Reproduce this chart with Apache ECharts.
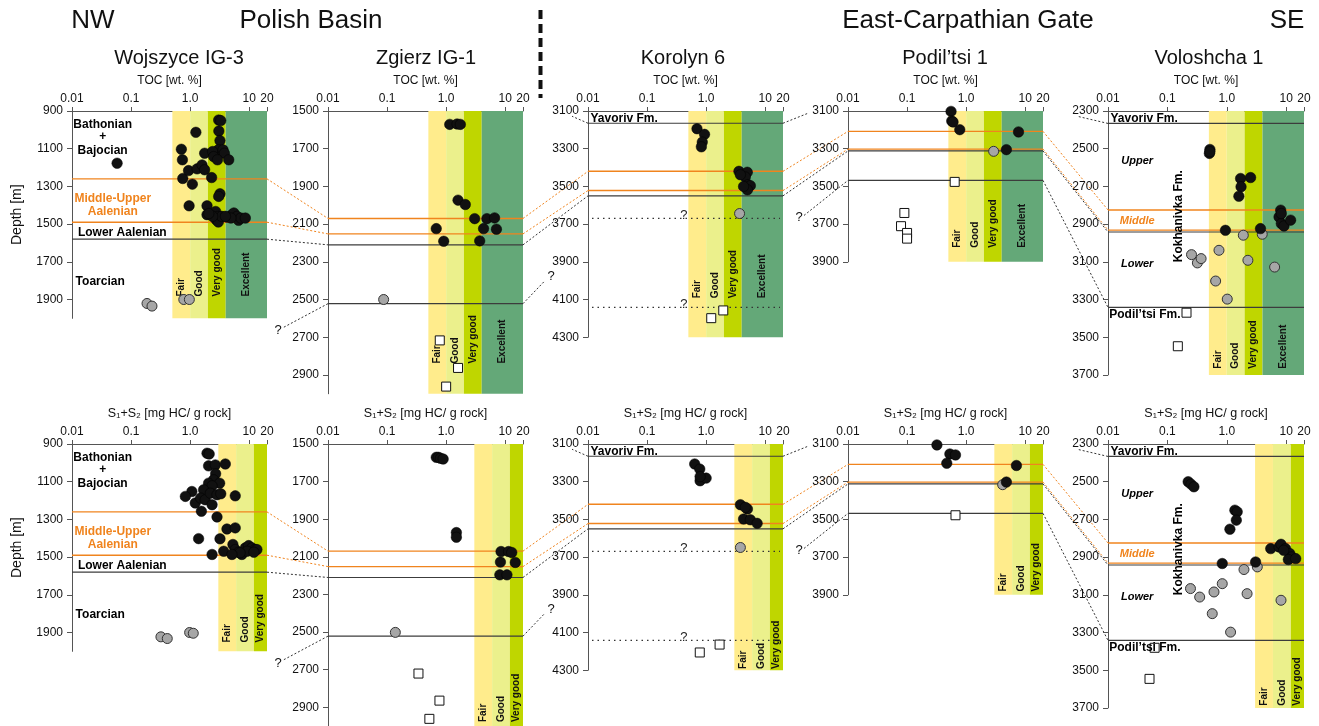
<!DOCTYPE html>
<html>
<head>
<meta charset="utf-8">
<script src="https://cdn.jsdelivr.net/npm/echarts@6/dist/echarts.min.js"></script>
<style>
  html, body { margin: 0; padding: 0; background: #ffffff; }
  #chart { width: 1319px; height: 726px; }
</style>
</head>
<body>
<div id="chart"></div>
<script>
// ---------- wells, axes ----------
const wellNames = ['Wojszyce IG-3', 'Zgierz IG-1', 'Korolyn 6', 'Podil’tsi 1', 'Voloshcha 1'];
const depthExtents = [[900, 2000], [1500, 3000], [3100, 4300], [3100, 3900], [2300, 3700]];
const wojDepthTicks = [900, 1100, 1300, 1500, 1700, 1900];
const zgiDepthTicks = [1500, 1700, 1900, 2100, 2300, 2500, 2700, 2900];
const korDepthTicks = [3100, 3300, 3500, 3700, 3900, 4100, 4300];
const podDepthTicks = [3100, 3300, 3500, 3700, 3900];
const volDepthTicks = [2300, 2500, 2700, 2900, 3100, 3300, 3500, 3700];
const logTicks = [0.01, 0.1, 1, 10, 20];
const logTickLabels = ['0.01', '0.1', '1.0', '10', '20'];

// Source-rock quality classes [from, to, name]
const tocClasses = [[0.5, 1, 'Fair'], [1, 2, 'Good'], [2, 4, 'Very good'], [4, 20, 'Excellent']];
const s12Classes = [[3, 6, 'Fair'], [6, 12, 'Good'], [12, 20, 'Very good']];

// ---------- TOC [wt. %] vs depth [m] ----------
const wojTocBlack = [[0.058,1177],[1.25,1013],[0.71,1103],[0.74,1159],[0.75,1258],[0.94,1216],[1.09,1288],[0.96,1403],[1.31,1207],[1.59,1186],[1.76,1212],[1.93,1403],[1.76,1124],[2.31,1253],[1.93,1450],[3.04,948],[3.3,951],[3.06,1006],[3.2,1057],[3.0,1106],[2.4,1115],[2.5,1142],[3.6,1106],[3.8,1124],[4.5,1159],[2.9,1159],[3.2,1339],[3.04,1353],[2.7,1433],[3.0,1459],[2.76,1477],[3.0,1489],[3.4,1459],[4.2,1463],[5.1,1450],[5.5,1441],[6.2,1459],[6.6,1480],[7.2,1468],[8.6,1468],[4.9,1468],[3.95,1459],[2.4,1459],[2.07,1444]];
const wojTocGrey = [[0.186,1921],[0.226,1935],[0.78,1900],[0.97,1900]];
const wojTocWhite = [];
const zgiTocBlack = [[1.15,1571],[1.53,1569],[1.74,1571],[1.59,1973],[2.11,1996],[0.68,2124],[0.91,2191],[3.04,2071],[4.3,2124],[4.9,2071],[6.6,2067],[7.1,2127],[3.7,2189]];
const zgiTocGrey = [[0.0875,2500]];
const zgiTocWhite = [[0.78,2717],[1.59,2863],[1.0,2962]];
const korTocBlack = [[0.70,3194],[0.94,3224],[0.86,3265],[0.83,3290],[3.59,3420],[4.97,3425],[4.6,3450],[3.8,3438],[5.1,3491],[5.6,3496],[5.0,3518],[4.3,3500]];
const korTocGrey = [[3.68,3644]];
const korTocWhite = [[1.95,4158],[1.22,4199]];
const podTocBlack = [[0.555,3102],[0.57,3153],[0.6,3158],[0.78,3199],[7.7,3211],[4.8,3305]];
const podTocGrey = [[2.92,3314]];
const podTocWhite = [[0.64,3476],[0.09,3641],[0.079,3711],[0.1,3747],[0.1,3777]];
const volTocBlack = [[0.52,2504],[0.51,2525],[0.52,2516],[1.71,2658],[1.74,2702],[1.6,2752],[2.52,2653],[0.95,2933],[3.7,2924],[8.1,2826],[7.6,2862],[8.3,2897],[9.2,2910],[11.9,2879],[8.3,2844]];
const volTocGrey = [[0.255,3062],[0.32,3106],[0.37,3083],[0.74,3039],[0.65,3202],[1.02,3298],[1.9,2959],[2.27,3092],[3.96,2954],[6.4,3128]];
const volTocWhite = [[0.21,3370],[0.15,3548]];

// ---------- S1+S2 [mg HC/g rock] vs depth [m] ----------
const wojS12Black = [[1.93,949],[2.1,953],[2.05,1016],[2.67,1011],[3.94,1006],[2.7,1058],[2.5,1090],[2.05,1108],[3.16,1108],[2.35,1122],[1.69,1143],[1.07,1152],[0.83,1178],[1.22,1213],[1.5,1187],[1.8,1196],[2.2,1161],[2.35,1222],[1.55,1257],[2.85,1169],[3.3,1164],[5.8,1175],[2.85,1287],[4.2,1351],[5.8,1345],[1.39,1402],[3.2,1403],[2.35,1486],[3.7,1469],[5.3,1433],[5.8,1460],[6.6,1474],[7.5,1486],[8.6,1451],[9.8,1439],[11.1,1451],[12.5,1460],[13.5,1460],[9.2,1469],[7.0,1477],[5.1,1486],[12,1474]];
const wojS12Grey = [[0.32,1923],[0.41,1932],[0.98,1900],[1.13,1904]];
const wojS12White = [];
const zgiS12Black = [[0.68,1571],[0.74,1571],[0.80,1576],[0.89,1580],[1.49,1971],[1.49,1996],[8.5,2072],[11.4,2072],[12.9,2077],[8.3,2128],[14.8,2130],[8.1,2196],[10.7,2196]];
const zgiS12Grey = [[0.138,2502]];
const zgiS12White = [[0.34,2721],[0.77,2865],[0.52,2962]];
const korS12Black = [[0.64,3206],[0.78,3233],[0.79,3295],[1.0,3281],[0.79,3273],[3.8,3422],[5.0,3445],[4.3,3498],[5.6,3502],[7.3,3521],[4.6,3436]];
const korS12Grey = [[3.8,3649]];
const korS12White = [[1.69,4164],[0.78,4206]];
const podS12Black = [[0.32,3105],[0.53,3153],[0.66,3158],[0.47,3202],[7.1,3214],[4.8,3302]];
const podS12Grey = [[4.15,3316]];
const podS12White = [[0.66,3478]];
const volS12Black = [[0.224,2500],[0.25,2513],[0.28,2527],[1.37,2651],[1.5,2660],[1.45,2704],[1.13,2752],[0.84,2934],[3.06,2926],[5.5,2855],[7.6,2846],[8.2,2832],[9.8,2855],[11.5,2881],[12.4,2899],[10.9,2913],[14.5,2908],[9.1,2864]];
const volS12Grey = [[0.245,3067],[0.35,3112],[0.61,3085],[0.84,3041],[0.57,3200],[1.16,3298],[1.95,2966],[2.2,3094],[3.27,2952],[8.2,3129]];
const volS12White = [[0.061,3381],[0.050,3546]];

// ---------- stratigraphic boundaries [depth, kind]; o = orange, k = black, d = dotted ----------
const wojBounds = [[1260,'o'],[1490,'o'],[1580,'k']];
const zgiBounds = [[2070,'o'],[2152,'o'],[2210,'k'],[2522,'k']];
const korBounds = [[3165,'k'],[3420,'o'],[3522,'o'],[3550,'k'],[3670,'d'],[4142,'d']];
const podBounds = [[3208,'o'],[3302,'o'],[3312,'k'],[3468,'k']];
const volBounds = [[2366,'k'],[2825,'o'],[2932,'o'],[2942,'k'],[3342,'k']];

// Correlation between neighbouring wells [left well, depth, right well, depth, kind]
const wellLinks = [
  [0,1260,1,2070,'o'],[0,1490,1,2152,'o'],[0,1580,1,2210,'k'],
  [1,2070,2,3420,'o'],[1,2152,2,3522,'o'],[1,2210,2,3550,'k'],
  [2,3420,3,3208,'o'],[2,3522,3,3302,'o'],[2,3550,3,3312,'k'],
  [3,3208,4,2825,'o'],[3,3302,4,2932,'o'],[3,3312,4,2942,'k'],[3,3468,4,3342,'k']
];

// ---------- styling / layout ----------
const FONT = '"Liberation Sans", Arial, Helvetica, sans-serif';
const ORANGE = '#F0841E';
const DARK = '#3c3c3c';
const TOC_COLORS = ['#FFEC8C', '#EBF08C', '#BFD600', '#64A878'];
const S12_COLORS = ['#FFEC8C', '#EBF08C', '#BFD600'];
const GRID_LEFT = [72, 328, 588, 848, 1108];
const GRID_WIDTH = [195, 195, 195, 195, 196];
const ROW_TOP = [111, 444];
const PX_PER_M = 0.1885;
const TITLE_X = [179, 426, 683, 945, 1209];

const bold = { fontFamily: FONT, fontWeight: 'bold', fontSize: 12, color: '#000', opacity: 1 };
const wojNotes = [
  { v: [0.033, 970], text: 'Bathonian', s: bold },
  { v: [0.033, 1036], text: '+', s: bold },
  { v: [0.033, 1113], text: 'Bajocian', s: bold },
  { v: [0.049, 1363], text: 'Middle-Upper', s: { ...bold, color: ORANGE } },
  { v: [0.049, 1435], text: 'Aalenian', s: { ...bold, color: ORANGE } },
  { v: [0.071, 1544], text: 'Lower Aalenian', s: bold },
  { v: [0.030, 1806], text: 'Toarcian', s: bold }
];
const korNotes = [
  { v: [0.011, 3142], text: 'Yavoriv Fm.', s: { ...bold, align: 'left' } },
  { v: [0.42, 3656], text: '?', s: { fontFamily: FONT, fontSize: 13, color: '#222', opacity: 1 } },
  { v: [0.42, 4128], text: '?', s: { fontFamily: FONT, fontSize: 13, color: '#222', opacity: 1 } }
];
const volNotes = [
  { v: [0.011, 2341], text: 'Yavoriv Fm.', s: { ...bold, align: 'left' } },
  { v: [0.031, 2566], text: 'Upper', s: { ...bold, fontSize: 11, fontStyle: 'italic' } },
  { v: [0.031, 2884], text: 'Middle', s: { ...bold, fontSize: 11, fontStyle: 'italic', color: ORANGE } },
  { v: [0.031, 3112], text: 'Lower', s: { ...bold, fontSize: 11, fontStyle: 'italic' } },
  { v: [0.155, 2858], text: 'Kokhanivka Fm.', s: { ...bold, rotate: 90 } },
  { v: [0.0105, 3383], text: 'Podil’tsi Fm.', s: { ...bold, align: 'left' } }
];

const rows = [
  {
    axisName: 'TOC [wt. %]', nameSize: 12, classes: tocClasses, colors: TOC_COLORS,
    labelDepth: [1884, 2840, 4094, 3826, 3667],
    points: [
      [wojTocBlack, wojTocGrey, wojTocWhite], [zgiTocBlack, zgiTocGrey, zgiTocWhite],
      [korTocBlack, korTocGrey, korTocWhite], [podTocBlack, podTocGrey, podTocWhite],
      [volTocBlack, volTocGrey, volTocWhite]
    ]
  },
  {
    axisName: 'S₁+S₂ [mg HC/ g rock]', nameSize: 12.5, classes: s12Classes, colors: S12_COLORS,
    labelDepth: [1953, 2979, 4293, 3883, 3688],
    points: [
      [wojS12Black, wojS12Grey, wojS12White], [zgiS12Black, zgiS12Grey, zgiS12White],
      [korS12Black, korS12Grey, korS12White], [podS12Black, podS12Grey, podS12White],
      [volS12Black, volS12Grey, volS12White]
    ]
  }
];
const depthTicks = [wojDepthTicks, zgiDepthTicks, korDepthTicks, podDepthTicks, volDepthTicks];
const bounds = [wojBounds, zgiBounds, korBounds, podBounds, volBounds];
const notes = [wojNotes, [], korNotes, [], volNotes];

function logLabel(v) {
  let best = 0;
  logTicks.forEach((t, i) => {
    if (Math.abs(Math.log10(v) - Math.log10(t)) < Math.abs(Math.log10(v) - Math.log10(logTicks[best]))) best = i;
  });
  return logTickLabels[best];
}

function bandSeries(k, classes, colors, dMin, dMax, labelDepth) {
  return {
    type: 'custom', xAxisIndex: k, yAxisIndex: k, silent: true, z: 1,
    data: classes.map(c => [c[0], dMin, c[1], dMax]),
    encode: { x: [0, 2], y: [1, 3] },
    renderItem(params, api) {
      const a = api.coord([api.value(0), api.value(1)]);
      const b = api.coord([api.value(2), api.value(3)]);
      const lab = api.coord([api.value(0), labelDepth]);
      return {
        type: 'group',
        children: [
          { type: 'rect', shape: { x: a[0], y: a[1], width: b[0] - a[0], height: b[1] - a[1] },
            style: { fill: colors[params.dataIndex] } },
          { type: 'text', x: (a[0] + b[0]) / 2, y: lab[1], rotation: Math.PI / 2,
            style: { text: classes[params.dataIndex][2], fill: '#111', font: 'bold 10px ' + FONT,
                     align: 'left', verticalAlign: 'middle' } }
        ]
      };
    }
  };
}

function boundarySeries(k, list) {
  return {
    type: 'custom', xAxisIndex: k, yAxisIndex: k, silent: true, z: 3,
    data: list.map(b => [0.01, b[0], 20, b[0]]),
    encode: { x: [0, 2], y: [1, 3] },
    renderItem(params, api) {
      const kind = list[params.dataIndex][1];
      let a = api.coord([api.value(0), api.value(1)]);
      let b = api.coord([api.value(2), api.value(3)]);
      const style = kind === 'o' ? { stroke: ORANGE, lineWidth: 1.4 }
        : kind === 'k' ? { stroke: DARK, lineWidth: 1.2 }
        : { stroke: '#333', lineWidth: 1.2, lineDash: [1.5, 4] };
      if (kind === 'd') { a = [a[0] + 4, a[1]]; b = [b[0] - 3, b[1]]; }
      return { type: 'line', shape: { x1: a[0], y1: a[1], x2: b[0], y2: b[1] }, style };
    }
  };
}

function pointSeries(k, data, kind) {
  const style = {
    black: { symbol: 'circle', size: 10.5, item: { color: '#111111', borderColor: '#000', borderWidth: 0.5, opacity: 1 } },
    grey: { symbol: 'circle', size: 10, item: { color: '#A6A6A6', borderColor: '#333', borderWidth: 1, opacity: 1 } },
    white: { symbol: 'rect', size: 9, item: { color: '#ffffff', borderColor: '#111', borderWidth: 1, opacity: 1 } }
  }[kind];
  return {
    type: 'scatter', xAxisIndex: k, yAxisIndex: k, silent: true, z: 5,
    symbol: style.symbol, symbolSize: style.size, itemStyle: style.item, data
  };
}

function noteSeries(k, list) {
  return {
    type: 'scatter', xAxisIndex: k, yAxisIndex: k, silent: true, z: 6, clip: false,
    symbolSize: 0, itemStyle: { opacity: 1 },
    data: list.map(n => ({
      value: n.v,
      label: Object.assign({ show: true, position: 'inside', formatter: n.text }, n.s)
    }))
  };
}

const grids = [], xAxis = [], yAxis = [], series = [];
rows.forEach((row, r) => {
  wellNames.forEach((name, w) => {
    const k = r * 5 + w;
    const [dMin, dMax] = depthExtents[w];
    grids.push({ left: GRID_LEFT[w], top: ROW_TOP[r], width: GRID_WIDTH[w],
                 height: (dMax - dMin) * PX_PER_M, containLabel: false });
    xAxis.push({
      type: 'log', logBase: 10, gridIndex: k, min: 0.01, max: 20, position: 'top',
      name: row.axisName, nameLocation: 'middle', nameGap: 24,
      nameTextStyle: { fontFamily: FONT, fontSize: row.nameSize, color: '#111' },
      axisLine: { show: true, onZero: false, lineStyle: { color: '#555', width: 1 } },
      axisTick: { show: true, inside: false, length: 4, lineStyle: { color: '#555' } },
      axisLabel: { show: true, margin: 6, fontFamily: FONT, fontSize: 12, color: '#111',
                   showMinLabel: true, showMaxLabel: true, formatter: logLabel },
      splitLine: { show: false }, minorTick: { show: false }, minorSplitLine: { show: false }
    });
    yAxis.push({
      type: 'value', gridIndex: k, inverse: true, min: dMin, max: dMax,
      axisLine: { show: true, onZero: false, lineStyle: { color: '#555', width: 1 } },
      axisTick: { show: true, length: 5, customValues: depthTicks[w], lineStyle: { color: '#555' } },
      axisLabel: { customValues: depthTicks[w], fontFamily: FONT, fontSize: 12, color: '#111', margin: 9,
                   formatter: v => String(Math.round(v)) },
      splitLine: { show: false }
    });
    series.push(bandSeries(k, row.classes, row.colors, dMin, dMax, row.labelDepth[w]));
    series.push(boundarySeries(k, bounds[w]));
    const [blk, gry, wht] = row.points[w];
    series.push(pointSeries(k, wht, 'white'));
    series.push(pointSeries(k, gry, 'grey'));
    series.push(pointSeries(k, blk, 'black'));
    series.push(noteSeries(k, notes[w]));
  });
});

const chart = echarts.init(document.getElementById('chart'), null, { renderer: 'canvas' });
chart.setOption({
  animation: false,
  backgroundColor: '#ffffff',
  grid: grids, xAxis, yAxis, series
});

// ---------- header texts, correlation lines ----------
const px = (k, x, d) => chart.convertToPixel({ gridIndex: k }, [x, d]);
const g = [];
const text = (x, y, str, size, extra) => g.push(Object.assign({
  type: 'text', x, y, silent: true,
  style: { text: str, font: size + 'px ' + FONT, fill: '#111', align: 'center', verticalAlign: 'middle' }
}, extra || {}));

text(93, 21, 'NW', 26);
text(311, 21, 'Polish Basin', 26);
text(968, 21, 'East-Carpathian Gate', 26);
text(1287, 21, 'SE', 26);
g.push({ type: 'line', silent: true, shape: { x1: 540.5, y1: 10, x2: 540.5, y2: 98 },
         style: { stroke: '#111', lineWidth: 4, lineDash: [9, 5] } });
wellNames.forEach((n, w) => text(TITLE_X[w], 58, n, 20));

const linkStyle = kind => kind === 'o'
  ? { stroke: ORANGE, lineWidth: 1, lineDash: [2, 2] }
  : { stroke: '#333', lineWidth: 1, lineDash: [2, 2] };
const seg = (a, b, kind) => g.push({ type: 'line', silent: true,
  shape: { x1: a[0], y1: a[1], x2: b[0], y2: b[1] }, style: linkStyle(kind) });
const qmark = (p) => text(p[0], p[1], '?', 13);

[0, 1].forEach(r => {
  const base = r * 5;
  const [d0, d1] = depthExtents[0];
  // depth axis title
  text(17, ROW_TOP[r] + (d1 - d0) * PX_PER_M / 2, 'Depth [m]', 14, { rotation: Math.PI / 2 });
  wellLinks.forEach(([wa, da, wb, db, kind]) => {
    seg(px(base + wa, 20, da), px(base + wb, 0.01, db), kind);
  });
  // uncertain continuation of the 2522 m boundary (Zgierz)
  let p = px(base + 1, 0.01, 2522);
  seg(p, [p[0] - 45, p[1] + 24], 'k'); qmark([p[0] - 50, p[1] + 27]);
  p = px(base + 1, 20, 2522);
  seg(p, [p[0] + 22, p[1] - 23], 'k'); qmark([p[0] + 28, p[1] - 27]);
  // Korolyn 3670 m level to Podil'tsi
  p = px(base + 2, 20, 3670);
  qmark([p[0] + 16, p[1] - 1]);
  seg([p[0] + 21, p[1] - 3], px(base + 3, 0.01, 3468), 'k');
  // Yavoriv Fm. pinch-out stubs
  p = px(base + 2, 0.01, 3165); seg(p, [p[0] - 16, p[1] - 7], 'k');
  p = px(base + 2, 20, 3165); seg(p, [p[0] + 25, p[1] - 10], 'k');
  p = px(base + 4, 0.01, 2366); seg(p, [p[0] - 30, p[1] - 7], 'k');
});

chart.setOption({ graphic: g });
</script>
</body>
</html>
